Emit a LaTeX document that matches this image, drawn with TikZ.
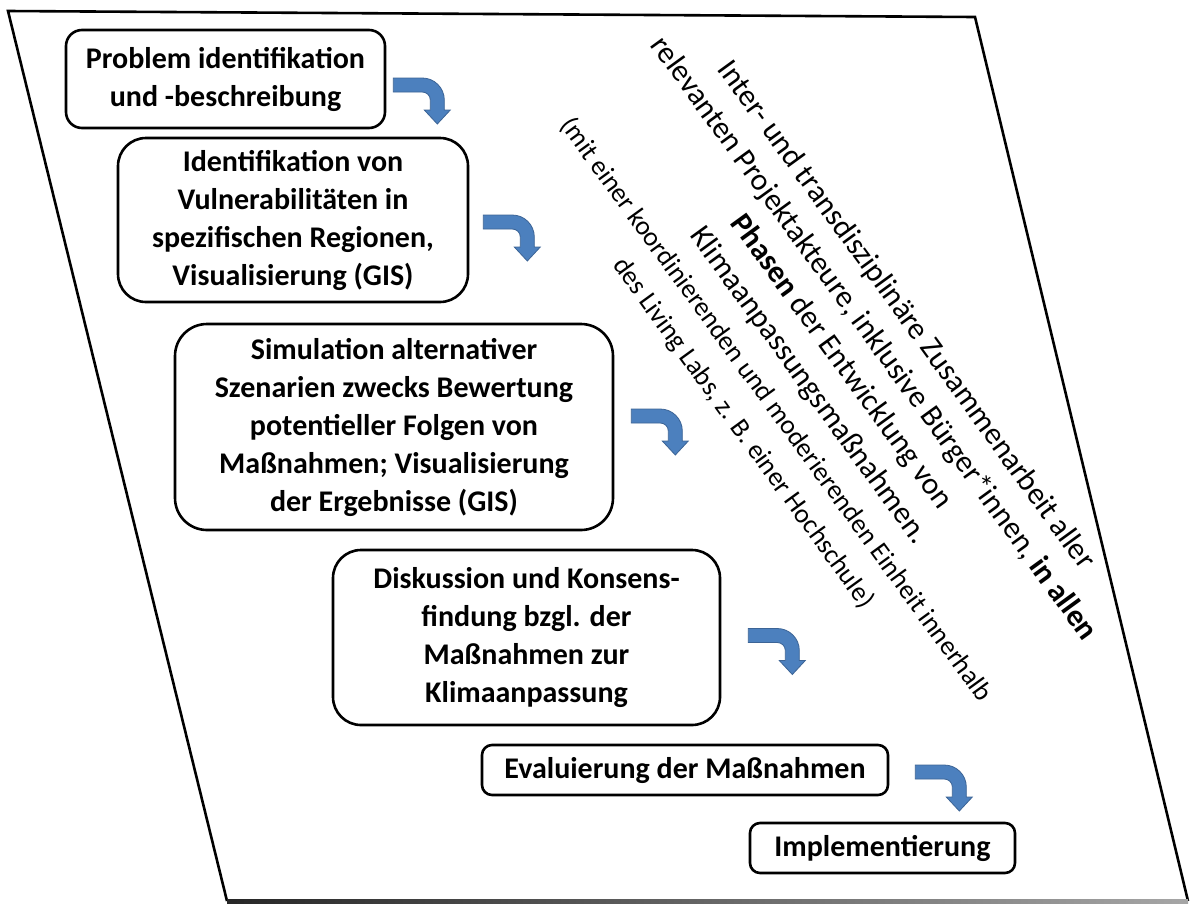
\documentclass[tikz,border=0pt]{standalone}
\usepackage{fontspec}
\setmainfont{Carlito}
\usetikzlibrary{calc}
\definecolor{arrowblue}{RGB}{76,128,190}
\definecolor{arrowedge}{RGB}{60,100,150}
\begin{document}
\begin{tikzpicture}[x=1pt,y=-1pt,
  box/.style={draw, line width=2.6pt, fill=white, align=center, inner sep=0pt,
    font=\bfseries\fontsize{30}{38}\selectfont},
  frame/.style={line width=2.6pt, line join=miter},
  bent/.pic={
    \fill[arrowblue, draw=arrowedge, line width=0.8pt]
      (0,-7) -- (29,-7) arc[start angle=-90, end angle=0, radius=22]
      -- (51,25) -- (57,25) -- (44,39) -- (31,25) -- (37,25)
      -- (37,15) arc[start angle=0, end angle=-90, radius=8]
      -- (0,7) -- cycle;
  }]
\useasboundingbox (0,0) rectangle (1190,903);
\fill[white] (0,0) rectangle (1190,903);

% slanted frame
\draw[frame] (227,901) -- (8,11) -- (975,17) -- (1188,901);
\shade[left color=black!85, right color=black!35] (227,899) rectangle (1188,903);

% process steps
\node[box, rounded corners=16pt, minimum width=319pt, minimum height=98pt]
  (s1) at (225.5,79) {Problem identifikation\\und -beschreibung};
\node[box, rounded corners=28pt, minimum width=350pt, minimum height=164pt]
  (s2) at (293,220) {Identifikation von\\Vulnerabilitäten in\\spezifischen Regionen,\\Visualisierung (GIS)};
\node[box, rounded corners=32pt, minimum width=438pt, minimum height=206pt]
  (s3) at (394,427) {Simulation alternativer\\Szenarien zwecks Bewertung\\potentieller Folgen von\\Maßnahmen; Visualisierung\\der Ergebnisse (GIS)};
\node[box, rounded corners=28pt, minimum width=387pt, minimum height=175pt]
  (s4) at (526.5,637.5) {Diskussion und Konsens-\\findung bzgl. der\\Maßnahmen zur\\Klimaanpassung};
\node[box, rounded corners=10pt, minimum width=406pt, minimum height=50pt]
  (s5) at (685,770) {Evaluierung der Maßnahmen};
\node[box, rounded corners=10pt, minimum width=265pt, minimum height=50pt]
  (s6) at (882.5,848) {Implementierung};

% bent arrows between the steps
\coordinate (a1) at ($(s1.east)+(7,6)$);
\coordinate (a2) at ($(s2.east)+(14,2)$);
\coordinate (a3) at ($(s3.east)+(17,-11)$);
\coordinate (a4) at ($(s4.east)+(27,-2)$);
\coordinate (a5) at ($(s5.east)+(26,2)$);
\foreach \a in {a1,a2,a3,a4,a5} \pic at (\a) {bent};

% diagonal note
\node[rotate=-54, align=center, inner sep=0pt, font=\fontsize{31}{40}\selectfont]
  (note) at (825,374)
  {Inter- und transdisziplinäre Zusammenarbeit aller\\
   relevanten Projektakteure, inklusive Bürger*innen, \textbf{in allen}\\
   \textbf{Phasen} der Entwicklung von\\
   Klimaanpassungsmaßnahmen.\\
   \fontsize{27}{34}\selectfont (mit einer koordinierenden und moderierenden Einheit innerhalb\\
   \fontsize{27}{34}\selectfont des Living Labs, z. B. einer Hochschule)};
\end{tikzpicture}
\end{document}
